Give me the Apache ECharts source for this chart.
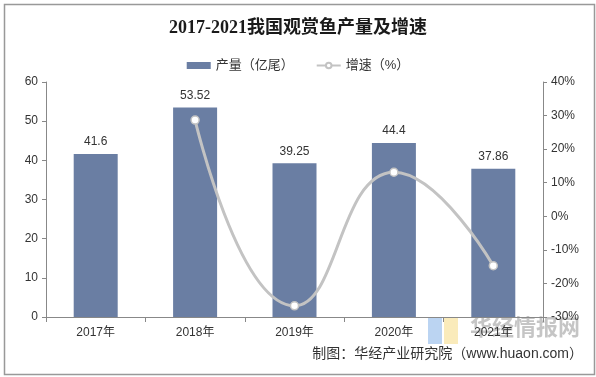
<!DOCTYPE html>
<html>
<head>
<meta charset="utf-8">
<script src="https://cdn.jsdelivr.net/npm/echarts@6/dist/echarts.min.js"></script>
<style>
html, body { margin: 0; padding: 0; background: #fff; }
#chart_main { width: 596px; height: 377px; }
</style>
</head>
<body>
<div id="chart_main"></div>
<script>
var years = ['2017年', '2018年', '2019年', '2020年', '2021年'];
var outputData = [41.6, 53.52, 39.25, 44.4, 37.86];
var growthData = [null, 28.65, -26.66, 13.12, -14.73];

var fontCn = '"Liberation Sans", "Noto Sans CJK SC", sans-serif';
var chart_main = echarts.init(document.getElementById('chart_main'));

var option = {
    animation: false,
    backgroundColor: '#fff',
    title: {
        text: '2017-2021我国观赏鱼产量及增速',
        left: 'center',
        top: 14,
        textStyle: {
            fontFamily: '"Liberation Serif", "Noto Sans CJK SC", serif',
            fontSize: 18,
            fontWeight: 'bold',
            color: '#1a1a1a'
        }
    },
    legend: {
        top: 54,
        left: 'center',
        itemGap: 22,
        itemWidth: 24,
        itemHeight: 7,
        textStyle: { fontFamily: fontCn, fontSize: 13, color: '#333' },
        data: [
            { name: '产量（亿尾）', icon: 'rect' },
            { name: '增速（%）' }
        ]
    },
    grid: { left: 46, right: 53, top: 82, bottom: 60 },
    xAxis: {
        type: 'category',
        data: years,
        axisLine: { lineStyle: { color: '#888' } },
        axisTick: { show: true, length: 5, lineStyle: { color: '#888' } },
        axisLabel: { color: '#333', fontSize: 12, fontFamily: fontCn, margin: 10 }
    },
    yAxis: [
        {
            type: 'value',
            min: 0, max: 60, interval: 10,
            axisLine: { show: true, lineStyle: { color: '#888' } },
            axisTick: { show: true, length: 4, lineStyle: { color: '#888' } },
            splitLine: { show: false },
            axisLabel: { color: '#333', fontSize: 12, fontFamily: fontCn, margin: 8 }
        },
        {
            type: 'value',
            min: -30, max: 40, interval: 10,
            axisLine: { show: true, lineStyle: { color: '#888' } },
            axisTick: { show: true, length: 4, lineStyle: { color: '#888' } },
            splitLine: { show: false },
            axisLabel: { color: '#333', fontSize: 12, fontFamily: fontCn, margin: 8, formatter: '{value}%' }
        }
    ],
    series: [
        {
            name: '产量（亿尾）',
            type: 'bar',
            barWidth: 44,
            itemStyle: { color: '#6a7ea3' },
            label: { show: true, position: 'top', color: '#333', fontSize: 12, fontFamily: fontCn, distance: 6 },
            data: outputData
        },
        {
            name: '增速（%）',
            type: 'line',
            yAxisIndex: 1,
            smooth: true,
            symbol: 'circle',
            symbolSize: 8,
            itemStyle: { color: '#fff', borderColor: '#c3c3c3', borderWidth: 1.5 },
            lineStyle: { color: '#c3c3c3', width: 3 },
            data: growthData
        }
    ],
    graphic: [
        {
            type: 'rect', left: 2, top: 2,
            shape: { width: 590, height: 370 },
            style: { fill: 'none', stroke: '#999', lineWidth: 1.5 }
        },
        {
            type: 'rect', left: 428, top: 318, z: 0,
            shape: { width: 14, height: 26 },
            style: { fill: 'rgba(120,170,230,0.5)' }
        },
        {
            type: 'rect', left: 444, top: 318, z: 0,
            shape: { width: 14, height: 26 },
            style: { fill: 'rgba(245,215,120,0.5)' }
        },
        {
            type: 'text', left: 470, top: 316, z: 0,
            style: { text: '华经情报网', fill: 'rgba(150,150,150,0.55)', font: 'bold 22px "Noto Sans CJK SC"' }
        },
        {
            type: 'text', right: 13, top: 347,
            style: { text: '制图：华经产业研究院（www.huaon.com）', fill: '#333', font: '14px "Liberation Sans", "Noto Sans CJK SC"' }
        }
    ]
};

chart_main.setOption(option);
</script>
</body>
</html>
